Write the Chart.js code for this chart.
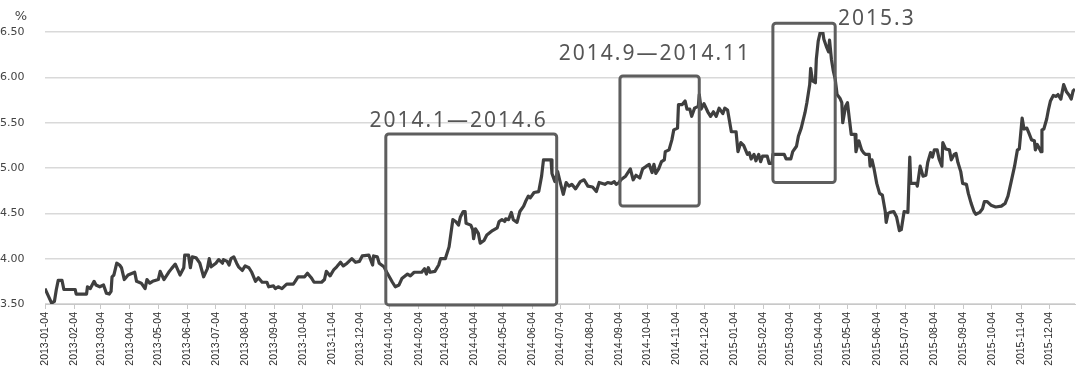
<!DOCTYPE html>
<html>
<head>
<meta charset="utf-8">
<script src="https://cdn.jsdelivr.net/npm/chart.js@4.4.1/dist/chart.umd.min.js"></script>
<style>
  html, body { margin: 0; padding: 0; background: #fff; }
  #wrap { width: 1081px; height: 373px; }
</style>
</head>
<body>
<div id="wrap"><canvas id="rateChart" width="1081" height="373"></canvas></div>
<script>
// observation dates and yields (%)
const dates = [
  '2013-01-04','2013-01-07','2013-01-11','2013-01-14','2013-01-16','2013-01-18','2013-01-22','2013-01-24',
  '2013-02-05','2013-02-06','2013-02-17','2013-02-18','2013-02-21','2013-02-25','2013-02-27','2013-03-03',
  '2013-03-07','2013-03-10','2013-03-13','2013-03-15','2013-03-16','2013-03-18','2013-03-21','2013-03-24',
  '2013-03-26','2013-03-29','2013-04-02','2013-04-09','2013-04-11','2013-04-16','2013-04-20','2013-04-22',
  '2013-04-25','2013-04-28','2013-05-04','2013-05-06','2013-05-10','2013-05-15','2013-05-18','2013-05-22',
  '2013-05-27','2013-05-31','2013-06-01','2013-06-05','2013-06-07','2013-06-09','2013-06-13','2013-06-17',
  '2013-06-21','2013-06-25','2013-06-27','2013-06-29','2013-07-04','2013-07-07','2013-07-11','2013-07-12',
  '2013-07-16','2013-07-18','2013-07-20','2013-07-23','2013-07-26','2013-07-28','2013-08-01','2013-08-04',
  '2013-08-08','2013-08-11','2013-08-15','2013-08-18','2013-08-22','2013-08-27','2013-08-29','2013-09-03',
  '2013-09-05','2013-09-08','2013-09-12','2013-09-15','2013-09-17','2013-09-24','2013-09-26','2013-09-29',
  '2013-10-06','2013-10-09','2013-10-13','2013-10-16','2013-10-24','2013-10-27','2013-10-29','2013-11-02',
  '2013-11-06','2013-11-09','2013-11-13','2013-11-16','2013-11-20','2013-11-25','2013-11-29','2013-12-03',
  '2013-12-06','2013-12-13','2013-12-17','2013-12-18','2013-12-22','2013-12-24','2013-12-29','2014-01-01',
  '2014-01-07','2014-01-10','2014-01-14','2014-01-17','2014-01-23','2014-01-26','2014-01-30','2014-02-07',
  '2014-02-10','2014-02-12','2014-02-14','2014-02-16','2014-02-21','2014-02-25','2014-02-27','2014-03-04',
  '2014-03-08','2014-03-12','2014-03-15','2014-03-18','2014-03-20','2014-03-23','2014-03-25','2014-03-26',
  '2014-03-31','2014-04-02','2014-04-03','2014-04-05','2014-04-08','2014-04-10','2014-04-14','2014-04-17',
  '2014-04-23','2014-04-28','2014-04-30','2014-05-03','2014-05-06','2014-05-07','2014-05-10','2014-05-13',
  '2014-05-15','2014-05-19','2014-05-22','2014-05-26','2014-05-28','2014-05-31','2014-06-02','2014-06-06',
  '2014-06-11','2014-06-14','2014-06-16','2014-06-24','2014-06-25','2014-06-28','2014-07-01','2014-07-04',
  '2014-07-07','2014-07-10','2014-07-13','2014-07-16','2014-07-20','2014-07-25','2014-07-29','2014-08-02',
  '2014-08-07','2014-08-11','2014-08-14','2014-08-20','2014-08-23','2014-08-27','2014-08-30','2014-09-01',
  '2014-09-04','2014-09-06','2014-09-11','2014-09-16','2014-09-19','2014-09-22','2014-09-26','2014-09-29',
  '2014-10-03','2014-10-06','2014-10-09','2014-10-11','2014-10-13','2014-10-16','2014-10-19','2014-10-22',
  '2014-10-23','2014-10-27','2014-10-30','2014-11-01','2014-11-05','2014-11-06','2014-11-10','2014-11-13',
  '2014-11-15','2014-11-18','2014-11-20','2014-11-23','2014-11-27','2014-11-28','2014-11-30','2014-12-03',
  '2014-12-07','2014-12-10','2014-12-13','2014-12-16','2014-12-19','2014-12-23','2014-12-25','2014-12-28',
  '2015-01-01','2015-01-06','2015-01-08','2015-01-11','2015-01-14','2015-01-18','2015-01-20','2015-01-22',
  '2015-01-25','2015-01-27','2015-01-30','2015-02-01','2015-02-03','2015-02-08','2015-02-10','2015-02-13',
  '2015-02-14','2015-02-26','2015-02-28','2015-03-05','2015-03-07','2015-03-11','2015-03-13','2015-03-16',
  '2015-03-20','2015-03-22','2015-03-25','2015-03-26','2015-03-28','2015-03-31','2015-04-01','2015-04-03',
  '2015-04-05','2015-04-08','2015-04-09','2015-04-12','2015-04-14','2015-04-15','2015-04-17','2015-04-19',
  '2015-04-21','2015-04-23','2015-04-26','2015-04-28','2015-04-29','2015-05-02','2015-05-04','2015-05-06',
  '2015-05-08','2015-05-12','2015-05-13','2015-05-16','2015-05-19','2015-05-21','2015-05-23','2015-05-27',
  '2015-05-28','2015-05-30','2015-06-01','2015-06-04','2015-06-07','2015-06-10','2015-06-13','2015-06-14',
  '2015-06-16','2015-06-18','2015-06-22','2015-06-25','2015-06-28','2015-06-30','2015-07-03','2015-07-07',
  '2015-07-09','2015-07-10','2015-07-16','2015-07-17','2015-07-20','2015-07-23','2015-07-26','2015-07-28',
  '2015-07-31','2015-08-02','2015-08-04','2015-08-07','2015-08-09','2015-08-12','2015-08-13','2015-08-16',
  '2015-08-20','2015-08-22','2015-08-25','2015-08-27','2015-08-29','2015-09-01','2015-09-03','2015-09-07',
  '2015-09-09','2015-09-12','2015-09-15','2015-09-17','2015-09-21','2015-09-24','2015-09-26','2015-09-29',
  '2015-10-03','2015-10-08','2015-10-14','2015-10-18','2015-10-21','2015-10-24','2015-10-28','2015-10-31',
  '2015-11-02','2015-11-05','2015-11-07','2015-11-10','2015-11-12','2015-11-15','2015-11-18','2015-11-19',
  '2015-11-21','2015-11-23','2015-11-25','2015-11-26','2015-11-28','2015-12-01','2015-12-03','2015-12-05',
  '2015-12-08','2015-12-11','2015-12-13','2015-12-16','2015-12-19','2015-12-22','2015-12-25','2015-12-27',
  '2015-12-29','2015-12-31'
];
const rates = [
  3.67,3.60,3.51,3.53,3.66,3.76,3.76,3.66,
  3.66,3.61,3.61,3.69,3.67,3.75,3.71,3.69,
  3.71,3.62,3.61,3.64,3.80,3.82,3.95,3.93,
  3.90,3.77,3.82,3.85,3.75,3.73,3.67,3.77,
  3.73,3.75,3.77,3.86,3.77,3.85,3.89,3.94,
  3.82,3.90,4.04,4.04,3.90,4.02,4.01,3.95,
  3.80,3.89,4.00,3.91,3.95,3.99,3.95,3.99,
  3.97,3.93,4.00,4.02,3.95,3.91,3.87,3.92,
  3.90,3.85,3.75,3.79,3.74,3.74,3.69,3.70,
  3.67,3.69,3.67,3.70,3.72,3.72,3.75,3.80,
  3.80,3.84,3.79,3.74,3.74,3.77,3.86,3.81,
  3.88,3.91,3.96,3.92,3.95,4.00,3.96,3.97,
  4.03,4.04,3.93,4.03,4.02,3.95,3.91,3.85,
  3.74,3.69,3.71,3.78,3.83,3.81,3.85,3.85,
  3.89,3.83,3.90,3.85,3.86,3.93,4.00,4.00,
  4.13,4.43,4.41,4.37,4.46,4.52,4.52,4.39,
  4.37,4.32,4.22,4.33,4.28,4.17,4.20,4.26,
  4.31,4.34,4.41,4.43,4.41,4.44,4.43,4.51,
  4.43,4.40,4.52,4.58,4.63,4.69,4.67,4.73,
  4.74,4.91,5.09,5.09,4.94,4.85,4.96,4.83,
  4.71,4.84,4.80,4.82,4.77,4.85,4.87,4.80,
  4.79,4.74,4.84,4.82,4.84,4.83,4.85,4.82,
  4.84,4.87,4.91,4.99,4.87,4.92,4.89,4.99,
  5.02,5.04,4.95,5.04,4.94,4.99,5.07,5.09,
  5.18,5.20,5.31,5.42,5.44,5.70,5.70,5.74,
  5.65,5.65,5.57,5.66,5.68,5.81,5.65,5.71,
  5.62,5.57,5.62,5.57,5.66,5.60,5.66,5.64,
  5.40,5.40,5.18,5.28,5.25,5.15,5.17,5.10,
  5.15,5.08,5.15,5.07,5.13,5.13,5.05,5.05,
  5.15,5.15,5.10,5.10,5.18,5.24,5.35,5.44,
  5.61,5.72,5.92,6.10,5.96,5.94,6.20,6.40,
  6.49,6.49,6.42,6.33,6.28,6.41,6.20,6.07,
  5.98,5.81,5.77,5.72,5.50,5.68,5.72,5.54,
  5.37,5.37,5.18,5.30,5.20,5.17,5.15,5.15,
  5.02,5.09,5.00,4.83,4.72,4.70,4.52,4.40,
  4.50,4.51,4.52,4.46,4.31,4.32,4.52,4.51,
  5.12,4.83,4.83,4.80,5.02,4.91,4.92,5.06,
  5.17,5.12,5.20,5.20,5.10,5.02,5.28,5.21,
  5.20,5.09,5.15,5.16,5.06,4.96,4.83,4.82,
  4.72,4.61,4.52,4.49,4.51,4.55,4.63,4.63,
  4.59,4.57,4.58,4.61,4.69,4.83,5.02,5.20,
  5.21,5.55,5.43,5.44,5.39,5.31,5.30,5.20,
  5.26,5.22,5.18,5.42,5.43,5.54,5.65,5.74,
  5.80,5.79,5.81,5.76,5.92,5.84,5.80,5.76,
  5.85,5.87
];
const tickLabels = [
  '2013-01-04','2013-02-04','2013-03-04','2013-04-04','2013-05-04','2013-06-04',
  '2013-07-04','2013-08-04','2013-09-04','2013-10-04','2013-11-04','2013-12-04',
  '2014-01-04','2014-02-04','2014-03-04','2014-04-04','2014-05-04','2014-06-04',
  '2014-07-04','2014-08-04','2014-09-04','2014-10-04','2014-11-04','2014-12-04',
  '2015-01-04','2015-02-04','2015-03-04','2015-04-04','2015-05-04','2015-06-04',
  '2015-07-04','2015-08-04','2015-09-04','2015-10-04','2015-11-04','2015-12-04'
];
const yTicks = [3.5, 4.0, 4.5, 5.0, 5.5, 6.0, 6.5];

// highlighted periods: box span in dates/yields, caption anchor in dates/yields
const periodLabels = ['2014.1—2014.6', '2014.9—2014.11', '2015.3'];
const periodFrom = ['2013-12-31', '2014-09-05', '2015-02-14'];
const periodTo = ['2014-06-30', '2014-11-28', '2015-04-21'];
const periodLow = [3.49, 4.58, 4.84];
const periodHigh = [5.375, 6.015, 6.596];
const captionAt = ['2014-03-17', '2014-10-11', '2015-06-03'];
const captionY = [5.452, 6.191, 6.577];

const DAY0 = Date.UTC(2013, 0, 4);
function dayOf(s) {
  const [y, m, d] = s.split('-').map(Number);
  return (Date.UTC(y, m - 1, d) - DAY0) / 86400000;
}

const periodBoxes = {
  id: 'periodBoxes',
  afterDatasetsDraw(chart) {
    const { ctx, scales: { x, y } } = chart;
    ctx.save();
    ctx.strokeStyle = '#5e5e5e';
    ctx.lineWidth = 3;
    periodLabels.forEach((label, i) => {
      const left = x.getPixelForValue(dayOf(periodFrom[i]));
      const right = x.getPixelForValue(dayOf(periodTo[i]));
      const top = y.getPixelForValue(periodHigh[i]);
      const bottom = y.getPixelForValue(periodLow[i]);
      ctx.beginPath();
      ctx.roundRect(left, top, right - left, bottom - top, 3);
      ctx.stroke();

      ctx.fillStyle = '#555';
      ctx.font = '21px "Noto Sans"';
      ctx.letterSpacing = '2px';
      ctx.textAlign = 'center';
      ctx.textBaseline = 'alphabetic';
      ctx.fillText(label, x.getPixelForValue(dayOf(captionAt[i])) + 1, y.getPixelForValue(captionY[i]));
    });
    ctx.letterSpacing = '0px';
    // unit label above the y axis
    ctx.fillStyle = '#444';
    ctx.font = '13px "DejaVu Sans"';
    ctx.textAlign = 'center';
    ctx.fillText('%', 21, 20);
    ctx.restore();
  }
};

const ctx = document.getElementById('rateChart').getContext('2d');
new Chart(ctx, {
  type: 'line',
  data: {
    datasets: [{
      data: dates.map((d, i) => ({ x: dayOf(d), y: rates[i] })),
      borderColor: '#3f3f3f',
      borderWidth: 3.2,
      pointRadius: 0,
      tension: 0,
      borderJoinStyle: 'round'
    }]
  },
  options: {
    responsive: false,
    devicePixelRatio: 1,
    animation: false,
    layout: { padding: { top: 32, right: 6, left: 0, bottom: 0 } },
    plugins: { legend: { display: false }, tooltip: { enabled: false } },
    scales: {
      x: {
        type: 'linear',
        min: 0,
        max: dayOf('2015-12-31'),
        afterBuildTicks: s => { s.ticks = tickLabels.map(t => ({ value: dayOf(t) })); },
        afterFit: s => { s.height = 69; },
        ticks: {
          autoSkip: false,
          minRotation: 90,
          maxRotation: 90,
          padding: 3,
          color: '#2b2b2b',
          font: { family: 'Liberation Sans', size: 10.5 },
          callback: (v, i) => tickLabels[i]
        },
        grid: { drawOnChartArea: false, tickLength: 5, color: '#c8c8c8' },
        border: { color: '#c8c8c8' }
      },
      y: {
        min: 3.5,
        max: 6.5,
        afterBuildTicks: s => { s.ticks = yTicks.map(v => ({ value: v })); },
        afterFit: s => { s.width = 45; },
        ticks: {
          crossAlign: 'far',
          color: '#444',
          font: { family: 'DejaVu Sans', size: 11 },
          callback: v => v.toFixed(2)
        },
        grid: { color: '#d9d9d9', lineWidth: 1.5, drawTicks: false },
        border: { display: false }
      }
    }
  },
  plugins: [periodBoxes]
});
</script>
</body>
</html>
